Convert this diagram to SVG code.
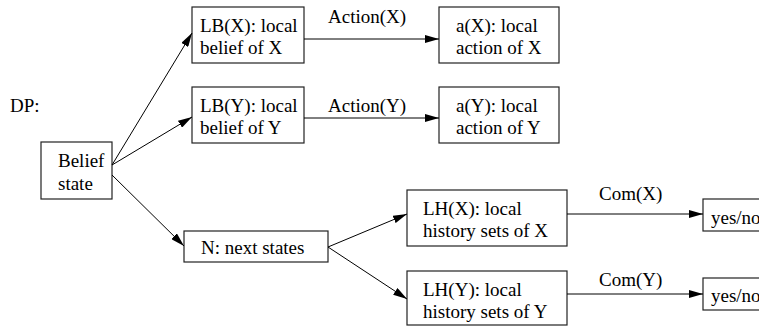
<svg xmlns="http://www.w3.org/2000/svg" width="759" height="326" viewBox="0 0 759 326">
  <style>
    .box { fill: #ffffff; stroke: #222; stroke-width: 1.2; }
    .lbl { font-family: "Liberation Serif", "Times New Roman", serif; font-size: 19px; fill: #000; }
    .edge { stroke: #000; stroke-width: 1; fill: none; marker-end: url(#arrow); }
  </style>
  <defs>
    <marker id="arrow" markerUnits="userSpaceOnUse" markerWidth="14" markerHeight="8" refX="14" refY="4" orient="auto">
      <path d="M0,0 L14,4 L0,8 z" fill="#000"/>
    </marker>
  </defs>

  <text class="lbl" x="10" y="112">DP:</text>

  <g id="belief">
    <rect class="box" x="41" y="142" width="71" height="57"/>
    <text class="lbl" x="58" y="167">Belief</text>
    <text class="lbl" x="58" y="190">state</text>
  </g>

  <g id="lbx">
    <rect class="box" x="192" y="7" width="112" height="56"/>
    <text class="lbl" x="200" y="32">LB(X): local</text>
    <text class="lbl" x="200" y="54">belief of X</text>
  </g>

  <g id="lby">
    <rect class="box" x="192" y="87" width="112" height="56"/>
    <text class="lbl" x="200" y="112">LB(Y): local</text>
    <text class="lbl" x="200" y="134">belief of Y</text>
  </g>

  <g id="ax">
    <rect class="box" x="439" y="7" width="120" height="56"/>
    <text class="lbl" x="456" y="32">a(X): local</text>
    <text class="lbl" x="456" y="54">action of X</text>
  </g>

  <g id="ay">
    <rect class="box" x="439" y="87" width="120" height="56"/>
    <text class="lbl" x="456" y="112">a(Y): local</text>
    <text class="lbl" x="456" y="134">action of Y</text>
  </g>

  <g id="next">
    <rect class="box" x="184" y="231" width="144" height="31"/>
    <text class="lbl" x="201" y="254">N: next states</text>
  </g>

  <g id="lhx">
    <rect class="box" x="407" y="190" width="160" height="56"/>
    <text class="lbl" x="423" y="215">LH(X): local</text>
    <text class="lbl" x="423" y="237">history sets of X</text>
  </g>

  <g id="lhy">
    <rect class="box" x="407" y="271" width="160" height="54"/>
    <text class="lbl" x="423" y="296">LH(Y): local</text>
    <text class="lbl" x="423" y="318">history sets of Y</text>
  </g>

  <g id="yesx">
    <rect class="box" x="703" y="199" width="70" height="32"/>
    <text class="lbl" x="711" y="224">yes/no</text>
  </g>

  <g id="yesy">
    <rect class="box" x="703" y="278" width="70" height="32"/>
    <text class="lbl" x="711" y="302">yes/no</text>
  </g>

  <g id="connectors">
    <line class="edge" x1="112" y1="165" x2="192" y2="33"/>
    <line class="edge" x1="112" y1="165" x2="192" y2="117"/>
    <line class="edge" x1="112" y1="175" x2="184" y2="246"/>
    <line class="edge" x1="304" y1="39" x2="439" y2="39"/>
    <line class="edge" x1="304" y1="118" x2="439" y2="118"/>
    <line class="edge" x1="328" y1="247" x2="407" y2="214"/>
    <line class="edge" x1="328" y1="247" x2="407" y2="299"/>
    <line class="edge" x1="567" y1="214" x2="703" y2="214"/>
    <line class="edge" x1="567" y1="294" x2="703" y2="294"/>
    <text class="lbl" x="328" y="23">Action(X)</text>
    <text class="lbl" x="328" y="112">Action(Y)</text>
    <text class="lbl" x="599" y="200">Com(X)</text>
    <text class="lbl" x="599" y="286">Com(Y)</text>
  </g>
</svg>
